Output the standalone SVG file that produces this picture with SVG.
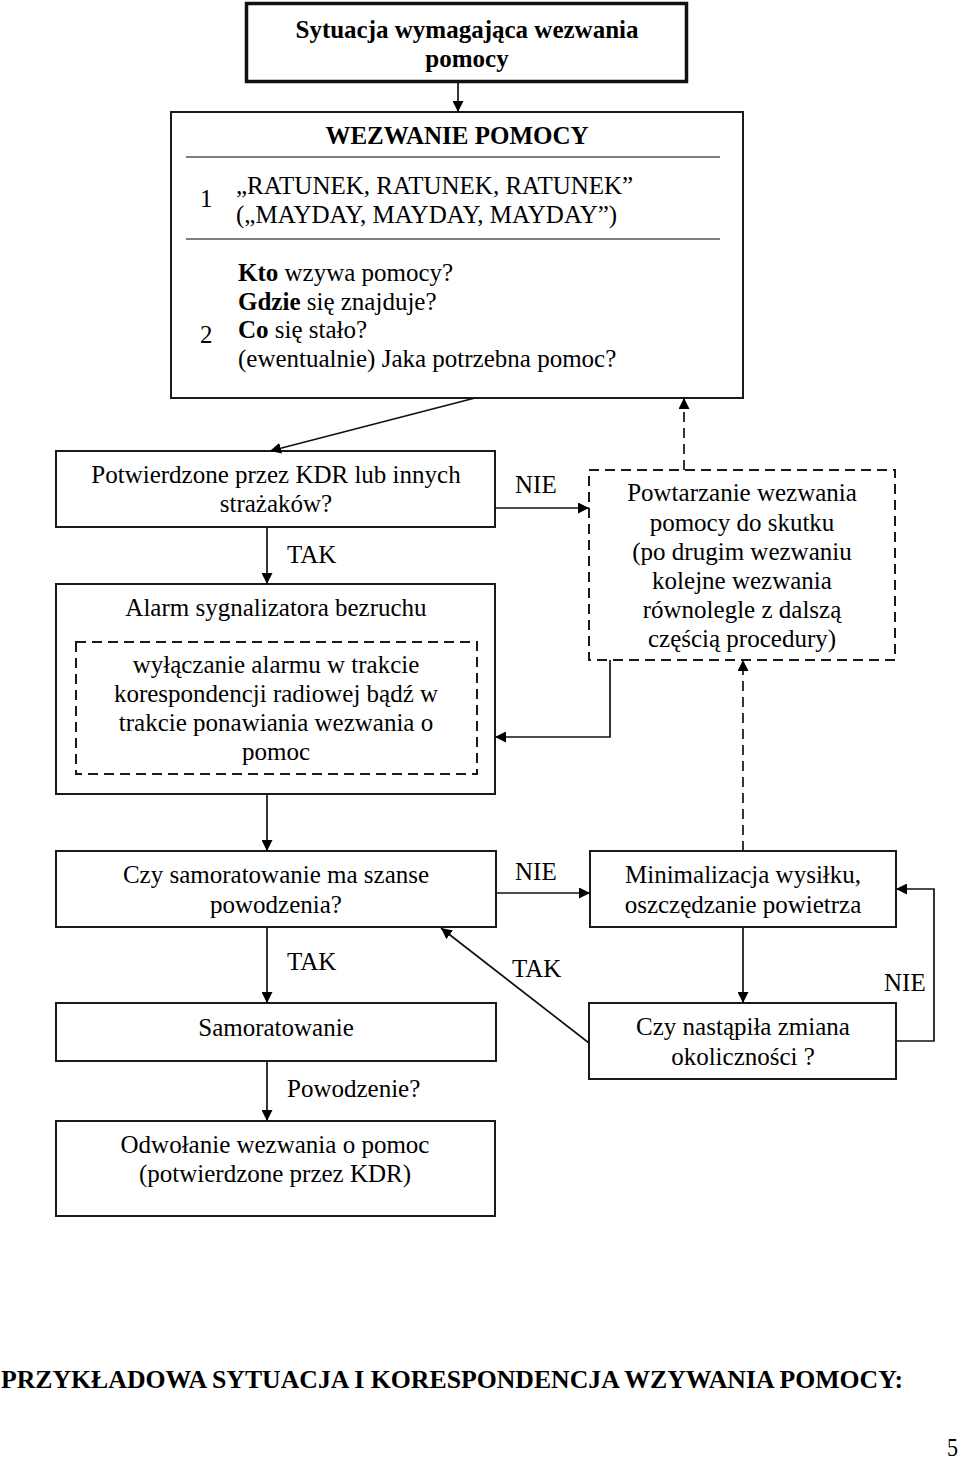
<svg xmlns="http://www.w3.org/2000/svg" width="960" height="1464" viewBox="0 0 960 1464">
<style>
.t{font-family:"Liberation Serif","Times New Roman",serif;font-size:25px;fill:#000}
.c{text-anchor:middle}
.b{font-weight:bold}
.box{fill:#fff;stroke:#1a1a1a;stroke-width:2}
.dbox{fill:none;stroke:#1a1a1a;stroke-width:2;stroke-dasharray:10 6}
.ln{fill:none;stroke:#111;stroke-width:1.7}
.dl{fill:none;stroke:#111;stroke-width:1.7;stroke-dasharray:10 6}
</style>
<defs>
<marker id="ah" viewBox="0 0 10 10" refX="10" refY="5" markerWidth="11" markerHeight="11" markerUnits="userSpaceOnUse" orient="auto">
<path d="M0,0 L10,5 L0,10 z" fill="#000"/>
</marker>
</defs>
<rect width="960" height="1464" fill="#fff"/>

<g id="start">
<rect x="246.5" y="3.5" width="440" height="78" fill="#fff" stroke="#111" stroke-width="3.5"/>
<text class="t b c" x="467" y="38">Sytuacja wymagająca wezwania</text>
<text class="t b c" x="467" y="67">pomocy</text>
</g>

<g id="wezwanie">
<rect class="box" x="171" y="112" width="572" height="286"/>
<text class="t b c" x="457" y="144">WEZWANIE POMOCY</text>
<line x1="186" y1="157" x2="720" y2="157" stroke="#555" stroke-width="1.5"/>
<text class="t" x="200" y="207">1</text>
<text class="t" x="236" y="194">„RATUNEK, RATUNEK, RATUNEK”</text>
<text class="t" x="236" y="223">(„MAYDAY, MAYDAY, MAYDAY”)</text>
<line x1="186" y1="239" x2="720" y2="239" stroke="#555" stroke-width="1.5"/>
<text class="t" x="238" y="281"><tspan class="b">Kto</tspan> wzywa pomocy?</text>
<text class="t" x="238" y="310"><tspan class="b">Gdzie</tspan> się znajduje?</text>
<text class="t" x="238" y="338"><tspan class="b">Co</tspan> się stało?</text>
<text class="t" x="238" y="367">(ewentualnie) Jaka potrzebna pomoc?</text>
<text class="t" x="200" y="343">2</text>
</g>

<g id="potwierdzone">
<rect class="box" x="56" y="451" width="439" height="76"/>
<text class="t c" x="276" y="483">Potwierdzone przez KDR lub innych</text>
<text class="t c" x="276" y="512">strażaków?</text>
</g>

<g id="alarm">
<rect class="box" x="56" y="584" width="439" height="210"/>
<text class="t c" x="276" y="616">Alarm sygnalizatora bezruchu</text>
<rect class="dbox" x="76" y="642" width="401" height="132"/>
<text class="t c" x="276" y="673">wyłączanie alarmu w trakcie</text>
<text class="t c" x="276" y="702">korespondencji radiowej bądź w</text>
<text class="t c" x="276" y="731">trakcie ponawiania wezwania o</text>
<text class="t c" x="276" y="760">pomoc</text>
</g>

<g id="powtarzanie">
<rect class="dbox" x="589" y="470" width="306" height="190" fill="#fff"/>
<text class="t c" x="742" y="501">Powtarzanie wezwania</text>
<text class="t c" x="742" y="531">pomocy do skutku</text>
<text class="t c" x="742" y="560">(po drugim wezwaniu</text>
<text class="t c" x="742" y="589">kolejne wezwania</text>
<text class="t c" x="742" y="618">równolegle z dalszą</text>
<text class="t c" x="742" y="647">częścią procedury)</text>
</g>

<g id="czy-samoratowanie">
<rect class="box" x="56" y="851" width="440" height="76"/>
<text class="t c" x="276" y="883">Czy samoratowanie ma szanse</text>
<text class="t c" x="276" y="913">powodzenia?</text>
</g>

<g id="minimalizacja">
<rect class="box" x="590" y="851" width="306" height="76"/>
<text class="t c" x="743" y="883">Minimalizacja wysiłku,</text>
<text class="t c" x="743" y="913">oszczędzanie powietrza</text>
</g>

<g id="samoratowanie">
<rect class="box" x="56" y="1003" width="440" height="58"/>
<text class="t c" x="276" y="1036">Samoratowanie</text>
</g>

<g id="czy-nastapila">
<rect class="box" x="589" y="1003" width="307" height="76"/>
<text class="t c" x="743" y="1035">Czy nastąpiła zmiana</text>
<text class="t c" x="743" y="1065">okoliczności ?</text>
</g>

<g id="odwolanie">
<rect class="box" x="56" y="1121" width="439" height="95"/>
<text class="t c" x="275" y="1153">Odwołanie wezwania o pomoc</text>
<text class="t c" x="275" y="1182">(potwierdzone przez KDR)</text>
</g>

<g id="connectors">
<line class="ln" x1="458" y1="82" x2="458" y2="112" marker-end="url(#ah)"/>
<line class="ln" x1="475" y1="398" x2="270" y2="451" marker-end="url(#ah)"/>
<line class="ln" x1="267" y1="527" x2="267" y2="584" marker-end="url(#ah)"/>
<line class="ln" x1="495" y1="508" x2="589" y2="508" marker-end="url(#ah)"/>
<line class="dl" x1="684" y1="470" x2="684" y2="398" marker-end="url(#ah)"/>
<polyline class="ln" points="610,660 610,737 495,737" marker-end="url(#ah)"/>
<line class="dl" x1="743" y1="851" x2="743" y2="660" marker-end="url(#ah)"/>
<line class="ln" x1="267" y1="794" x2="267" y2="851" marker-end="url(#ah)"/>
<line class="ln" x1="496" y1="893" x2="590" y2="893" marker-end="url(#ah)"/>
<line class="ln" x1="267" y1="927" x2="267" y2="1003" marker-end="url(#ah)"/>
<line class="ln" x1="743" y1="927" x2="743" y2="1003" marker-end="url(#ah)"/>
<polyline class="ln" points="896,1041 934,1041 934,889 896,889" marker-end="url(#ah)"/>
<line class="ln" x1="589" y1="1043" x2="441" y2="928" marker-end="url(#ah)"/>
<line class="ln" x1="267" y1="1061" x2="267" y2="1121" marker-end="url(#ah)"/>
<text class="t" x="515" y="493">NIE</text>
<text class="t" x="287" y="563">TAK</text>
<text class="t" x="515" y="880">NIE</text>
<text class="t" x="287" y="970">TAK</text>
<text class="t" x="512" y="977">TAK</text>
<text class="t" x="884" y="991">NIE</text>
<text class="t" x="287" y="1097">Powodzenie?</text>
</g>

<text class="t b" x="1" y="1388" font-size="28" textLength="902" lengthAdjust="spacingAndGlyphs">PRZYKŁADOWA SYTUACJA I KORESPONDENCJA WZYWANIA POMOCY:</text>
<text class="t" x="947" y="1456" textLength="11" lengthAdjust="spacingAndGlyphs">5</text>
</svg>
